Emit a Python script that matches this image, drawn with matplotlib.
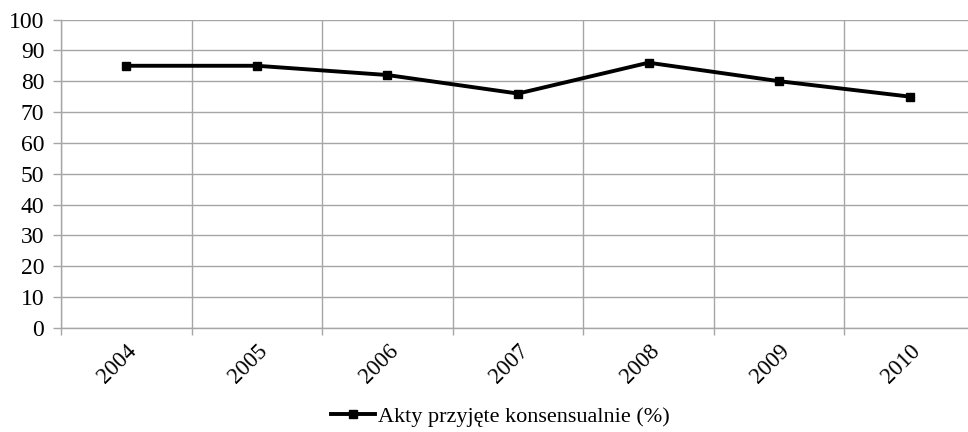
import matplotlib
matplotlib.use('Agg')
import matplotlib.pyplot as plt
from matplotlib.ticker import FixedLocator, MultipleLocator
from matplotlib.transforms import ScaledTranslation

years = ['2004', '2005', '2006', '2007', '2008', '2009', '2010']
consensus = [85, 85, 82, 76, 86, 80, 75]
series_label = 'Akty przyjęte konsensualnie (%)'

plt.rcParams['font.family'] = ['Liberation Serif', 'DejaVu Serif']
plt.rcParams['font.size'] = 16.5

GRID = '#a6a6a6'

fig = plt.figure(figsize=(9.68, 4.32), dpi=100)
# plot area runs past the right edge of the picture, as in the original
ax = fig.add_axes([61 / 968, 104 / 432, 914 / 968, 308.5 / 432])

x = list(range(len(years)))
ax.plot(x, consensus, color='black', lw=2.8, marker='s', ms=6.2,
        label=series_label, clip_on=False, zorder=3)

ax.set_xlim(-0.5, len(years) - 0.5)
ax.set_ylim(0, 100)
ax.yaxis.set_major_locator(MultipleLocator(10))

ax.set_xticks(x)
ax.set_xticklabels(years, rotation=45, ha='right', va='top',
                   rotation_mode='anchor')
shift = ScaledTranslation(-5 / 100, 0, fig.dpi_scale_trans)
for lbl in ax.get_xticklabels():
    lbl.set_transform(lbl.get_transform() + shift)
ax.xaxis.set_minor_locator(FixedLocator([i - 0.5 for i in range(len(years) + 1)]))
ax.tick_params(axis='x', which='major', length=0, pad=9, labelsize=16.5)
ax.tick_params(axis='x', which='minor', length=5, color=GRID, width=1)
ax.tick_params(axis='y', length=6, color=GRID, width=1, pad=6, labelsize=17)

ax.grid(True, axis='y', which='major', color=GRID, lw=1)
ax.grid(True, axis='x', which='minor', color=GRID, lw=1)
ax.set_axisbelow(True)

for side in ('top', 'right'):
    ax.spines[side].set_visible(False)
for side in ('left', 'bottom'):
    ax.spines[side].set_color(GRID)
    ax.spines[side].set_linewidth(1)

fig.legend(loc='center', bbox_to_anchor=(0.517, 0.035), frameon=False,
           handlelength=2.0, handletextpad=0.15, fontsize=16)

fig.savefig('out.png', dpi=100)
